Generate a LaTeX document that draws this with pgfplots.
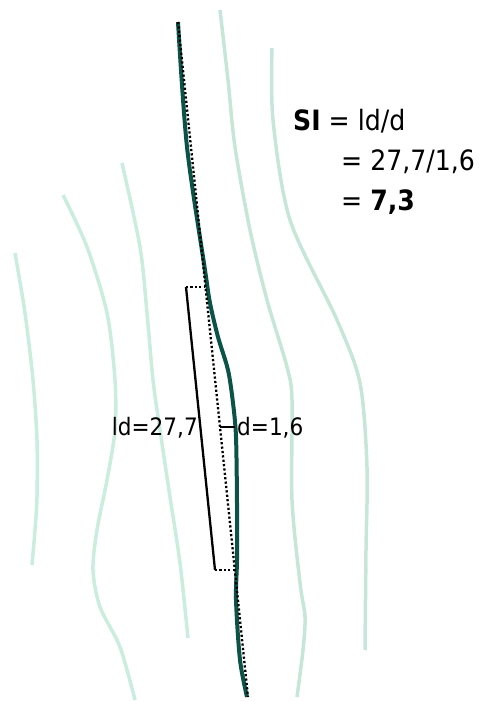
\documentclass[border=0pt]{standalone}
\usepackage{pgfplots}
\pgfplotsset{compat=1.18}
\usepackage{fontspec}
\setmainfont{DejaVu Sans Condensed}
\definecolor{mainc}{HTML}{0B5247}
\definecolor{lightc}{HTML}{CBEDDD}
\definecolor{lightd}{HTML}{C6E6D8}
\begin{document}
\begin{tikzpicture}
\begin{axis}[width=484pt,height=702pt,scale only axis,
  xmin=0,xmax=484,ymin=0,ymax=702,y dir=reverse,axis lines=none,clip=false]
\path[draw=none] (axis cs:0,0) rectangle (axis cs:484,702);
% light curves
\addplot[lightc,line width=3.5pt,smooth] coordinates {(15,253) (25,313) (33,380) (37,440) (37,497) (35,530) (32,565)};
\addplot[lightc,line width=3.5pt,smooth] coordinates {(63,195) (87,247) (107,313) (115,380) (115,430) (107,480) (97,530) (93,570) (100,607) (120,647) (135,700)};
\addplot[lightc,line width=3.5pt,smooth] coordinates {(122,163) (140,247) (147,313) (153,380) (160,430) (170,497) (180,563) (188,638)};
\addplot[lightd,line width=3.5pt,smooth] coordinates {(220,10) (228,80) (235,147) (250,230) (267,300) (287,367) (292,400) (292,500) (300,583) (305,617) (303,650) (297,697)};
\addplot[lightd,line width=3.5pt,smooth] coordinates {(272,48) (273,120) (290,220) (337,320) (360,383) (367,467) (366,550) (365,650)};
% main curve
\addplot[mainc,line width=4pt,smooth] coordinates {(178,22) (187,147) (205,270) (210,303) (218,337) (228,370) (233,403) (236,437) (237,503) (237,560) (236,600) (240,660) (247,697)};
% dotted chord
\addplot[black,line width=2.3pt,dash pattern=on 2.2pt off 2.2pt] coordinates {(178,22) (248,697)};
% ld segment
\addplot[black,line width=2.3pt] coordinates {(186,287) (215,570)};
\addplot[black,line width=2.3pt,dash pattern=on 2.2pt off 2.2pt] coordinates {(186,287) (205,287)};
\addplot[black,line width=2.3pt,dash pattern=on 2.2pt off 2.2pt] coordinates {(215,570) (234,570)};
% d segment
\addplot[black,line width=2.3pt] coordinates {(220,427) (235,427)};
\node[anchor=base east,font=\fontsize{24}{28}\selectfont,inner sep=0pt] at (axis cs:198,435) {ld=27,7};
\node[anchor=base west,font=\fontsize{24}{28}\selectfont,inner sep=0pt] at (axis cs:237,435) {d=1,6};
\node[anchor=base west,font=\fontsize{28}{32}\selectfont,inner sep=0pt] at (axis cs:293,130) {\textbf{SI} = ld/d};
\node[anchor=base west,font=\fontsize{28}{32}\selectfont,inner sep=0pt] at (axis cs:341,170) {= 27,7/1,6};
\node[anchor=base west,font=\fontsize{28}{32}\selectfont,inner sep=0pt] at (axis cs:341,210) {= \textbf{7,3}};
\end{axis}
\end{tikzpicture}
\end{document}
